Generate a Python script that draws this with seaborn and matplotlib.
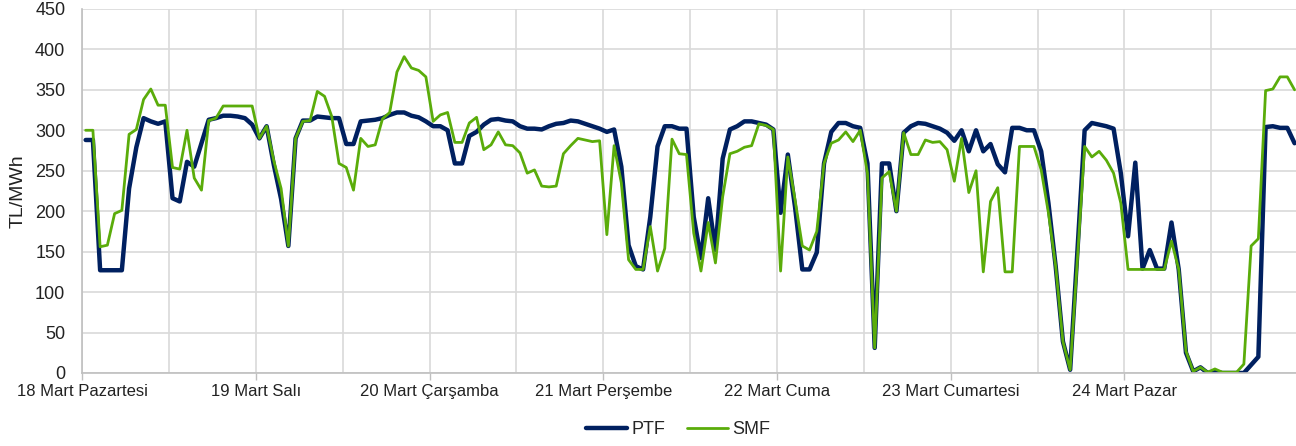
import pandas as pd
import matplotlib.pyplot as plt
import seaborn as sns

# Hourly PTF / SMF prices (TL/MWh), 18-24 Mart, 24 values per day
ptf = [288, 288, 127, 127, 127, 127, 228, 279, 315, 311, 308, 311, 216, 212, 261, 255, 284, 313, 315, 318, 318, 317, 315, 307,
       290, 305, 257, 215, 157, 290, 312, 312, 317, 316, 315, 315, 283, 283, 311, 312, 313, 315, 319, 322, 322, 318, 316, 311,
       305, 305, 300, 259, 259, 293, 298, 307, 313, 314, 312, 311, 305, 302, 302, 301, 305, 308, 309, 312, 311, 308, 305, 302,
       298, 301, 255, 158, 132, 128, 193, 280, 305, 305, 302, 302, 193, 142, 216, 152, 265, 301, 305, 311, 311, 309, 307, 301,
       198, 270, 205, 128, 128, 149, 259, 298, 309, 309, 305, 303, 259, 31, 259, 259, 200, 297, 305, 309, 308, 305, 302, 297,
       287, 300, 274, 300, 274, 283, 258, 248, 303, 303, 300, 300, 274, 210, 132, 39, 4, 150, 300, 309, 307, 305, 302, 247,
       169, 260, 129, 152, 129, 129, 186, 128, 25, 2, 7, 0, 2, 0, 0, 0, 0, 10, 20, 304, 305, 303, 303, 284]
smf = [300, 300, 156, 158, 197, 201, 295, 301, 338, 351, 331, 331, 254, 252, 300, 241, 226, 312, 315, 330, 330, 330, 330, 330,
       290, 305, 262, 228, 157, 290, 311, 312, 348, 342, 317, 259, 254, 226, 290, 280, 282, 314, 322, 372, 391, 377, 374, 366,
       311, 319, 322, 285, 285, 309, 316, 276, 282, 298, 282, 281, 272, 247, 251, 231, 230, 231, 271, 281, 290, 288, 286, 287,
       171, 281, 235, 140, 128, 128, 181, 126, 154, 289, 271, 270, 173, 126, 186, 136, 218, 271, 274, 279, 281, 308, 306, 301,
       126, 267, 214, 157, 152, 175, 259, 284, 288, 298, 286, 300, 247, 31, 241, 249, 200, 297, 270, 270, 288, 285, 286, 276,
       237, 290, 223, 250, 125, 212, 229, 125, 125, 280, 280, 280, 251, 198, 132, 39, 4, 140, 280, 267, 274, 263, 247, 210,
       128, 128, 128, 128, 128, 128, 163, 128, 27, 2, 7, 1, 5, 1, 1, 1, 11, 157, 166, 349, 351, 366, 366, 350]
gunler = ['18 Mart Pazartesi', '19 Mart Salı', '20 Mart Çarşamba', '21 Mart Perşembe',
          '22 Mart Cuma', '23 Mart Cumartesi', '24 Mart Pazar']
y_ticks = list(range(0, 451, 50))

df = pd.DataFrame({'saat': range(len(ptf)), 'PTF': ptf, 'SMF': smf})

sns.set_theme(style="whitegrid")
plt.rcParams['font.family'] = ['Liberation Sans', 'DejaVu Sans']

fig = plt.figure(figsize=(12.96, 4.46), dpi=100)
ax = fig.add_axes([0.0633, 0.1637, 0.9367, 0.8163])

sns.lineplot(x='saat', y='PTF', data=df, ax=ax, color='#002060', linewidth=3.2, label='PTF')
sns.lineplot(x='saat', y='SMF', data=df, ax=ax, color='#5aac0a', linewidth=2.0, label='SMF')

# Axis range and grid (gridlines every 12 hours, labels at day starts)
ax.set_xlim(-0.5, 167.2)
ax.set_ylim(0, 450)
ax.set_yticks(y_ticks)
ax.set_xticks([-0.5 + 24 * i for i in range(len(gunler))])
ax.set_xticklabels(gunler, fontsize=12, color='#222222')
ax.set_xticks([11.5 + 24 * i for i in range(7)], minor=True)
ax.tick_params(axis='y', labelsize=13, length=0, pad=12, colors='#222222')
ax.tick_params(axis='x', which='major', length=5, width=1, color='#bfbfbf', pad=3, bottom=True)
ax.tick_params(axis='x', which='minor', length=0)
ax.grid(True, which='both', color='#d9d9d9', linewidth=1.2)

ax.set_xlabel('')
ax.set_ylabel('TL/MWh', fontsize=14, color='#222222', labelpad=6)

for side in ['top', 'right']:
    ax.spines[side].set_visible(False)
for side in ['left', 'bottom']:
    ax.spines[side].set_color('#bfbfbf')
    ax.spines[side].set_linewidth(1.2)

handles, labels = ax.get_legend_handles_labels()
ax.get_legend().remove()
fig.legend(handles, labels, loc='center', bbox_to_anchor=(0.523, 0.036), ncol=2, frameon=False,
           fontsize=13, handlelength=2.3, handletextpad=0.2, columnspacing=1.2)

plt.savefig('out.png', dpi=100)
plt.close()
